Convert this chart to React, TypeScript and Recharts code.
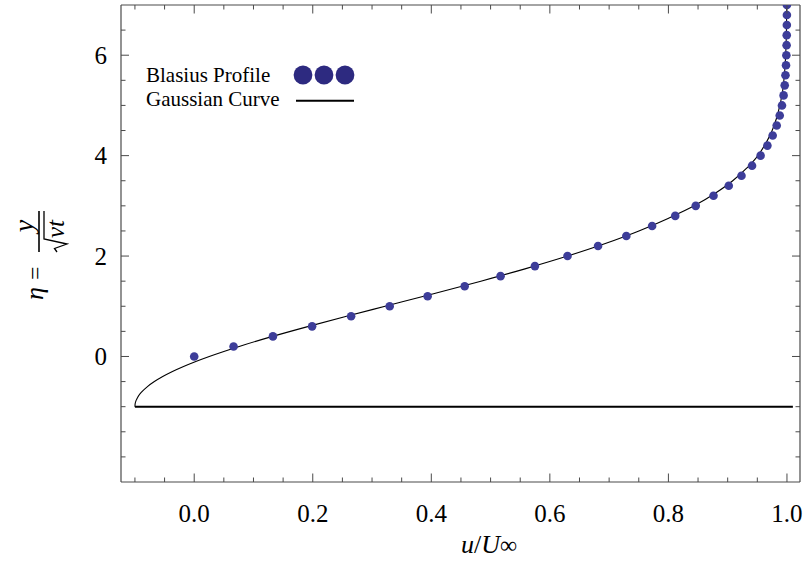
import React from 'react';
import { ComposedChart, XAxis, YAxis, Line, Scatter, Legend } from 'recharts';

// Blasius profile: eta and u/U
const blasiusEta = [0, 0.2, 0.4, 0.6, 0.8, 1.0, 1.2, 1.4, 1.6, 1.8, 2.0, 2.2, 2.4, 2.6, 2.8, 3.0, 3.2, 3.4, 3.6, 3.8, 4.0, 4.2, 4.4, 4.6, 4.8, 5.0, 5.2, 5.4, 5.6, 5.8, 6.0, 6.2, 6.4, 6.6, 6.8, 7.0];
const blasiusU = [0, 0.0664, 0.1328, 0.1989, 0.2647, 0.3298, 0.3938, 0.4563, 0.5168, 0.5748, 0.6298, 0.6813, 0.729, 0.7725, 0.8115, 0.8461, 0.8761, 0.9018, 0.9233, 0.9411, 0.9555, 0.967, 0.9759, 0.9827, 0.9878, 0.9916, 0.9943, 0.9962, 0.9975, 0.9984, 0.999, 0.9994, 0.9996, 0.9998, 0.9999, 0.9999];

// Gaussian curve
const gaussEta = [-1, -0.98, -0.95, -0.9, -0.85, -0.8, -0.7, -0.6, -0.5, -0.4, -0.3, -0.2, -0.1, 0, 0.2, 0.4, 0.6, 0.8, 1.0, 1.25, 1.5, 1.75, 2.0, 2.25, 2.5, 2.75, 3.0, 3.25, 3.5, 3.75, 4.0, 4.25, 4.5, 5.0, 5.5, 6.0, 6.5, 7.0];
const gaussU = [-0.1, -0.0999, -0.0997, -0.0987, -0.097, -0.0947, -0.0881, -0.0789, -0.0672, -0.0531, -0.0367, -0.018, 0.0027, 0.0254, 0.0759, 0.1322, 0.193, 0.2568, 0.3221, 0.4038, 0.4836, 0.5595, 0.6298, 0.6936, 0.7502, 0.7994, 0.8435, 0.879, 0.9085, 0.932, 0.951, 0.9645, 0.975, 0.988, 0.9948, 0.9978, 0.9991, 0.9996];

// Base line at eta = -1
const baseEta = [-1, -1];
const baseU = [-0.1, 1.01];

// Axes
const xDomain = [-0.1235, 1.022];
const yDomain = [-2.5, 7];
const xTicks = [-0.1, -0.05, 0, 0.05, 0.1, 0.15, 0.2, 0.25, 0.3, 0.35, 0.4, 0.45, 0.5, 0.55, 0.6, 0.65, 0.7, 0.75, 0.8, 0.85, 0.9, 0.95, 1.0];
const xTickLabels = [0, 0.2, 0.4, 0.6, 0.8, 1.0];
const yTicks = [-2, -1.5, -1, -0.5, 0, 0.5, 1, 1.5, 2, 2.5, 3, 3.5, 4, 4.5, 5, 5.5, 6, 6.5];
const yTickLabels = [0, 2, 4, 6];
const legendLabels = ['Blasius Profile', 'Gaussian Curve'];

const FONT = '"Liberation Serif", "Times New Roman", serif';
const FRAME = '#4a4a4a';
const DOT = '#3d3d99';
const LEGEND_DOT = '#2d2a80';

const blasiusData = blasiusEta.map((e, i) => ({ u: blasiusU[i], eta: e }));
const gaussData = gaussEta.map((e, i) => ({ u: gaussU[i], eta: e }));
const baseData = baseEta.map((e, i) => ({ u: baseU[i], eta: e }));

const isIn = (arr: number[], v: number) => arr.some((a) => Math.abs(a - v) < 1e-9);

const BottomTick = (p: any) => {
  const v = p.payload.value;
  const major = isIn(xTickLabels, v);
  return (
    <g>
      <line x1={p.x} x2={p.x} y1={p.y} y2={p.y - (major ? 8.5 : 4.5)} stroke={FRAME} strokeWidth={1} />
      {major && (
        <text x={p.x} y={p.y + 40} textAnchor="middle" fontFamily={FONT} fontSize={25} fill="#000">
          {v.toFixed(1)}
        </text>
      )}
    </g>
  );
};

const TopTick = (p: any) => {
  const v = p.payload.value;
  const major = isIn(xTickLabels, v);
  return <line x1={p.x} x2={p.x} y1={p.y} y2={p.y + (major ? 8.5 : 4.5)} stroke={FRAME} strokeWidth={1} />;
};

const LeftTick = (p: any) => {
  const v = p.payload.value;
  const major = isIn(yTickLabels, v);
  return (
    <g>
      <line x1={p.x} x2={p.x + (major ? 8 : 4.5)} y1={p.y} y2={p.y} stroke={FRAME} strokeWidth={1} />
      {major && (
        <text x={p.x - 14} y={p.y + 8.5} textAnchor="end" fontFamily={FONT} fontSize={25} fill="#000">
          {String(v)}
        </text>
      )}
    </g>
  );
};

const RightTick = (p: any) => {
  const v = p.payload.value;
  const major = isIn(yTickLabels, v);
  return <line x1={p.x} x2={p.x - (major ? 8 : 4.5)} y1={p.y} y2={p.y} stroke={FRAME} strokeWidth={1} />;
};

const XLabel = () => (
  <text x={461} y={553} fontFamily={FONT} fontSize={26} fill="#000">
    <tspan fontStyle="italic">u</tspan>
    <tspan>/</tspan>
    <tspan fontStyle="italic">U</tspan>
    <tspan fontSize={24}>∞</tspan>
  </text>
);

const YLabel = () => (
  <g transform="translate(40,260) rotate(-90)" fontFamily={FONT} fill="#000">
    <text x={-40} y={3} fontSize={26} fontStyle="italic">η</text>
    <text x={-20} y={3} fontSize={24}>=</text>
    <text x={34} y={-7} fontSize={28} fontStyle="italic" textAnchor="middle">y</text>
    <line x1={8} x2={49} y1={-1} y2={-1} stroke="#000" strokeWidth={1.6} />
    <path d="M 8 17 L 11.5 14.5 L 16 27 L 21 4 L 49 4" fill="none" stroke="#000" strokeWidth={1.3} />
    <text x={22} y={24} fontSize={25} fontStyle="italic">νt</text>
  </g>
);

const LegendContent = () => (
  <svg width={400} height={130} style={{ display: 'block' }}>
    <text x={146} y={82} fontFamily={FONT} fontSize={21} fill="#000">{legendLabels[0]}</text>
    {[303, 324, 345].map((cx) => (
      <circle key={cx} cx={cx} cy={75} r={9.4} fill={LEGEND_DOT} />
    ))}
    <text x={146} y={106} fontFamily={FONT} fontSize={21} fill="#000">{legendLabels[1]}</text>
    <line x1={296} x2={354} y1={100.7} y2={100.7} stroke="#000" strokeWidth={2} />
  </svg>
);

const DotShape = (p: any) => <circle cx={p.cx} cy={p.cy} r={4.3} fill={DOT} />;

export default function App() {
  return (
    <div style={{ position: 'absolute', left: 0, top: 0, width: 807, height: 571, background: '#fff' }}>
      <ComposedChart width={807} height={571} margin={{ top: 0, right: 0, bottom: 0, left: 0 }}>
        <XAxis
          xAxisId="b"
          orientation="bottom"
          type="number"
          dataKey="u"
          domain={xDomain}
          allowDataOverflow
          ticks={xTicks}
          interval={0}
          height={89}
          tickSize={0}
          tickMargin={0}
          tickLine={false}
          axisLine={{ stroke: FRAME, strokeWidth: 1.2 }}
          tick={BottomTick}
          label={XLabel}
        />
        <XAxis
          xAxisId="t"
          orientation="top"
          type="number"
          dataKey="u"
          domain={xDomain}
          allowDataOverflow
          ticks={xTicks}
          interval={0}
          height={5}
          tickSize={0}
          tickMargin={0}
          tickLine={false}
          axisLine={{ stroke: FRAME, strokeWidth: 1.2 }}
          tick={TopTick}
        />
        <YAxis
          yAxisId="l"
          orientation="left"
          type="number"
          dataKey="eta"
          domain={yDomain}
          allowDataOverflow
          ticks={yTicks}
          interval={0}
          width={121}
          tickSize={0}
          tickMargin={0}
          tickLine={false}
          axisLine={{ stroke: FRAME, strokeWidth: 1.2 }}
          tick={LeftTick}
          label={YLabel}
        />
        <YAxis
          yAxisId="r"
          orientation="right"
          type="number"
          dataKey="eta"
          domain={yDomain}
          allowDataOverflow
          ticks={yTicks}
          interval={0}
          width={7}
          tickSize={0}
          tickMargin={0}
          tickLine={false}
          axisLine={{ stroke: FRAME, strokeWidth: 1.2 }}
          tick={RightTick}
        />
        <Line
          xAxisId="b"
          yAxisId="l"
          data={baseData}
          dataKey="eta"
          type="linear"
          stroke="#000"
          strokeWidth={2}
          dot={false}
          activeDot={false}
          isAnimationActive={false}
          legendType="none"
        />
        <Line
          xAxisId="b"
          yAxisId="l"
          data={gaussData}
          dataKey="eta"
          name={legendLabels[1]}
          type="monotone"
          stroke="#000"
          strokeWidth={1.1}
          dot={false}
          activeDot={false}
          isAnimationActive={false}
        />
        <Scatter
          xAxisId="b"
          yAxisId="l"
          data={blasiusData}
          dataKey="eta"
          name={legendLabels[0]}
          fill={DOT}
          shape={DotShape}
          isAnimationActive={false}
        />
        <Legend
          layout="horizontal"
          verticalAlign="middle"
          align="center"
          wrapperStyle={{ left: 0, top: 0, width: 400, height: 130 }}
          content={LegendContent}
        />
      </ComposedChart>
    </div>
  );
}
